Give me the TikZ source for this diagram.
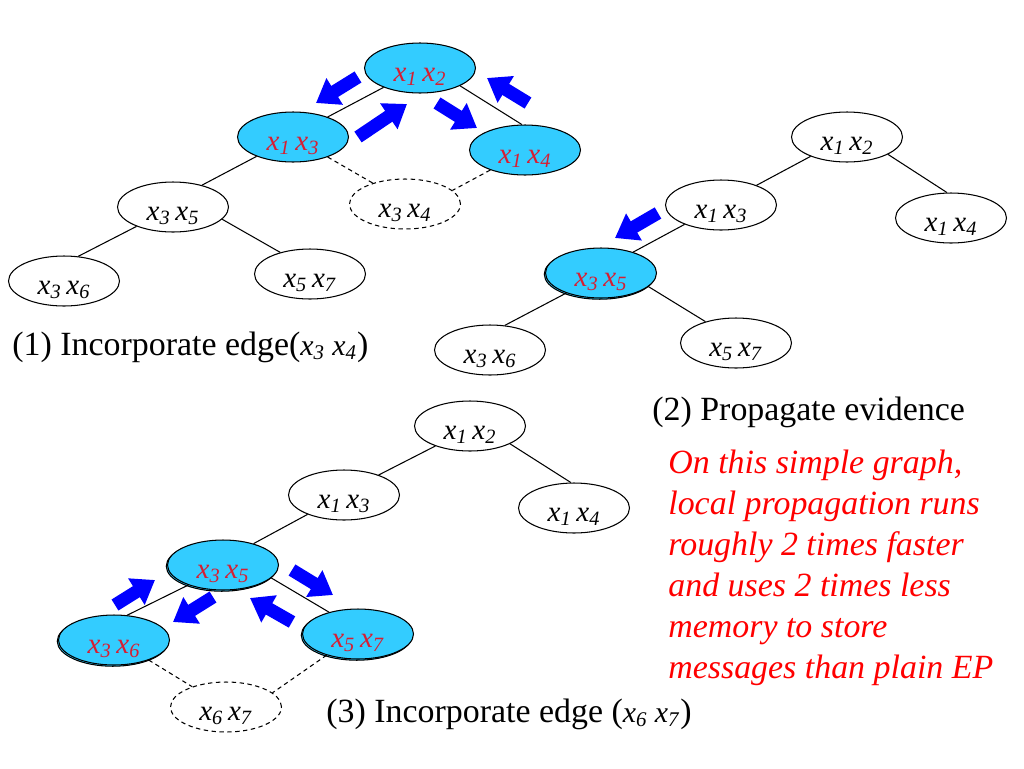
\documentclass[tikz,border=0pt]{standalone}
\usepackage{fontspec}
\setmainfont{Liberation Serif}
\usetikzlibrary{arrows.meta,shapes.geometric,shadows}
\definecolor{cliqueblue}{RGB}{51,204,255}
\definecolor{cliquered}{RGB}{215,30,50}
\def\xv#1{\textit{x}\textsubscript{\textit{#1}}}
\def\xx#1#2{\xv{#1}\,\xv{#2}}
\def\xcap#1#2{{\fontsize{17}{20}\selectfont\xv{#1} \xv{#2}}}

\tikzset{
	clique/.style={ellipse, draw, line width=0.6pt, minimum width=2.22cm, minimum height=1.0cm, inner sep=0pt, text height=15pt, text depth=0pt, font=\fontsize{16.5}{18}\selectfont},
	active/.style={clique, fill=cliqueblue, text=cliquered},
	shadowed/.style={active, copy shadow={shadow xshift=-0.7pt, shadow yshift=-0.7pt}},
	pending/.style={clique, dash pattern=on 2.5pt off 2pt},
	link/.style={line width=0.6pt},
	pendinglink/.style={link, dash pattern=on 2.5pt off 2pt},
	msg/.style={blue, line width=7.4pt, -{Triangle[width=17pt,length=12.5pt]}},
	caption/.style={anchor=base west, inner sep=0pt, font=\fontsize{19.3}{23.2}\selectfont}
}

\begin{document}
\begin{tikzpicture}[x=0.02cm, y=-0.02cm]
	\useasboundingbox (0,0) rectangle (1024,768);
	%%%%% (1) %%%%%
	\node[active] (a12) at (420,68) {\xx12};
	\node[active] (a13) at (293,137) {\xx13};
	\node[active] (a14) at (525,150) {\xx14};
	\node[pending] (a34) at (405,204) {\xx34};
	\node[clique] (a35) at (173,207) {\xx35};
	\node[clique] (a36) at (64,281) {\xx36};
	\node[clique] (a57) at (310,274) {\xx57};
	
	\draw[link] (a12.208) -- (a13.30);
	\draw[link] (a12.-24) -- (a14.97);
	\draw[link] (a13.208) -- (a35.37);
	\draw[link] (a35.208) -- (a36.60);
	\draw[link] (a35.-14) -- (a57.144);
	\draw[pendinglink] (a13.-30) -- (a34.147);
	\draw[pendinglink] (a14.210) -- (a34.16);
	
	\node[caption] (cap1) at (12,355) {(1) Incorporate edge(\xcap34)};
	
	%%%%% (2) %%%%%
	\node[clique] (b12) at (847,137) {\xx12};
	\node[clique] (b13) at (721,205) {\xx13};
	\node[clique] (b14) at (951,218) {\xx14};
	\node[shadowed] (b35) at (601,273) {\xx35};
	\node[clique] (b36) at (490,350) {\xx36};
	\node[clique] (b57) at (736,343) {\xx57};
	
	\draw[link] (b12.208) -- (b13.29);
	\draw[link] (b12.-23) -- (b14.99);
	\draw[link] (b13.208) -- (b35.33);
	\draw[link] (b35.210) -- (b36.59);
	\draw[link] (b35.-16) -- (b57.145);
	
	\node[caption] (cap2) at (652,420) {(2) Propagate evidence};
	
	%%%%% (3) %%%%%
	\node[clique] (c12) at (470,426) {\xx12};
	\node[clique] (c13) at (344,495) {\xx13};
	\node[clique] (c14) at (574,508) {\xx14};
	\node[shadowed] (c35) at (223,565) {\xx35};
	\node[shadowed] (c36) at (114,640) {\xx36};
	\node[shadowed] (c57) at (358,634) {\xx57};
	\node[pending] (c67) at (226,707) {\xx67};
	
	\draw[link] (c12.210) -- (c13.30);
	\draw[link] (c12.-24) -- (c14.97);
	\draw[link] (c13.208) -- (c35.35);
	\draw[link] (c35.210) -- (c36.62);
	\draw[link] (c35.-15) -- (c57.143);
	\draw[pendinglink] (c36.-30) -- (c67.149);
	\draw[pendinglink] (c57.214) -- (c67.17);
	
	\node[caption] (cap3) at (326,722) {(3) Incorporate edge (\xcap67)};
	
	%%%%% messages %%%%%
	\foreach \m/\s/\e in {m1/{358,77}/{316,103}, m2/{358,137}/{407,104},
		m3/{437,103}/{477,128}, m4/{528,103}/{487,78}, m5/{658,213}/{615,238},
		m6/{115,605}/{155,580}, m7/{213,597}/{173,622}, m8/{292,622}/{250,598},
		m9/{292,570}/{333,595}}
	{
		\coordinate (\m s) at (\s);
		\coordinate (\m e) at (\e);
		\draw[msg] (\m s) -- (\m e);
	}
	
	\node[caption, align=left, text=red, font=\fontsize{19.3}{23.25}\selectfont\itshape] (note) at (668,678)
	{On this simple graph,\\local propagation runs\\roughly 2 times faster\\and uses 2 times less\\memory to store\\messages than plain EP};
\end{tikzpicture}
\end{document}
